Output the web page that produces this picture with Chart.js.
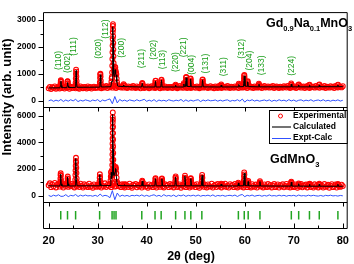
<!DOCTYPE html>
<html><head><meta charset="utf-8">
<script src="https://cdn.jsdelivr.net/npm/chart.js@4.4.1/dist/chart.umd.min.js"></script>
<style>html,body{margin:0;padding:0;background:#fff;}#wrap{width:354px;height:264px;position:relative;}</style>
</head><body><div id="wrap"><canvas id="c" width="354" height="264"></canvas></div>
<script>
// ---------- axes / ticks ----------
const xMin = 18.85, xMax = 81;
const xMajor = [20,30,40,50,60,70,80];
const xMajorLabels = ['20','30','40','50','60','70','80'];
const xMinor = [25,35,45,55,65,75];
const topTicks = [0,1000,2000,3000];
const topTickLabels = ['0','1000','2000','3000'];
const topMinor = [500,1500,2500];
const midTicks = [0,2000,4000,6000];
const midTickLabels = ['0','2000','4000','6000'];
const midMinor = [1000,3000,5000];

// ---------- experimental background samples (2θ = 20 + 0.25*i) ----------
const gridStart = 20, gridStep = 0.25;
const expNaBase = [
455,510,430,495,470,525,440,480,505,450,530,465,490,445,515,475,500,440,520,470,
480,515,455,500,470,440,525,485,460,510,495,450,530,470,505,445,490,520,465,500,
475,530,490,460,515,480,505,545,470,520,495,535,480,550,510,470,540,500,525,485,
520,480,545,500,465,530,490,515,475,540,500,470,525,490,510,455,535,495,470,515,
490,525,460,505,535,480,515,470,500,540,485,460,520,495,475,530,500,465,510,485,
505,470,530,490,515,460,500,540,480,510,475,525,495,465,535,500,470,520,490,510,
475,530,495,460,520,505,480,545,490,515,470,500,535,480,510,460,525,495,470,540,
500,470,525,490,515,480,540,495,465,520,505,475,530,490,510,465,545,500,480,520,
495,530,470,510,540,485,505,465,525,500,480,535,490,515,470,510,545,485,500,525,
480,515,495,540,470,505,530,490,465,520,500,475,535,510,485,545,495,470,520,505,
490,530,470,515,500,545,480,510,525,465,505,540,490,470,530,500,515,480,545,495,
510,475,530,500,490,540,470,515,505,480,535,495,520,470,545,500,485,525,510,490,
535];
const expGdBase = [
780,930,640,850,700,960,620,820,890,680,900,750,610,870,720,940,660,800,700,880,
740,620,880,700,820,650,900,730,610,860,700,790,640,910,680,750,600,850,720,660,
820,690,880,610,760,700,930,650,800,720,870,640,780,900,680,720,950,700,820,640,
870,700,620,840,760,650,900,710,600,820,740,880,630,790,700,860,610,750,890,680,
720,600,850,700,790,640,880,720,610,830,760,660,900,700,620,860,740,800,640,880,
700,820,620,760,890,650,730,850,600,790,700,870,640,820,720,610,900,680,760,830,
640,870,700,600,810,740,880,660,790,620,850,720,680,900,610,760,830,650,880,700,
780,620,840,700,900,650,760,610,870,720,800,640,890,700,620,830,750,680,860,620,
760,880,640,800,700,620,870,730,660,840,610,780,900,690,750,620,850,720,640,880,
700,810,620,760,880,640,720,850,610,790,700,860,630,740,890,660,770,620,840,700,
640,850,720,600,800,690,880,630,760,710,840,620,780,900,650,730,610,860,700,790,
620,840,700,760,610,880,660,730,820,600,760,870,640,720,850,610,790,700,660,830,
720];

// ---------- experimental points on the Bragg peaks [2θ, counts] ----------
const expNaPeaks = [
[22.38,560],[22.43,640],[22.47,730],[22.50,760],[22.54,700],[22.58,610],[22.63,540],
[23.73,550],[23.79,630],[23.84,710],[23.88,720],[23.92,650],[23.97,570],
[25.45,560],[25.50,660],[25.54,820],[25.57,990],[25.60,1150],[25.63,1080],[25.66,900],[25.70,730],[25.75,600],
[30.40,560],[30.45,680],[30.49,840],[30.52,970],[30.56,1000],[30.60,900],[30.64,740],[30.69,600],
[32.75,580],[32.80,700],[32.85,830],[32.90,880],
[32.95,1050],[32.98,1300],[33.00,1550],[33.02,1800],[33.04,2050],[33.06,2300],[33.08,2550],[33.10,2780],[33.12,2850],
[33.14,2650],[33.16,2400],[33.18,2150],[33.20,1900],[33.22,1650],[33.25,1400],[33.28,1200],
[33.33,1100],[33.40,1000],[33.46,1050],[33.52,1180],[33.56,1250],[33.60,1230],[33.65,1120],[33.70,1000],[33.76,1050],[33.82,980],[33.88,820],[33.95,680],[34.03,580],
[35.20,560],[35.30,610],[35.40,570],
[38.98,560],[39.05,630],[39.10,660],[39.16,620],[39.23,550],
[41.68,570],[41.74,650],[41.79,730],[41.83,740],[41.88,660],[41.94,570],
[42.88,580],[42.94,670],[42.99,760],[43.03,780],[43.08,690],[43.14,590],
[45.82,540],[45.90,590],[45.98,550],
[47.50,580],[47.57,650],[47.64,600],[47.92,620],[47.98,740],[48.03,860],[48.07,880],[48.12,780],[48.18,640],
[48.82,600],[48.88,710],[48.93,800],[48.97,820],[49.02,730],[49.08,610],
[51.27,590],[51.33,690],[51.38,770],[51.42,790],[51.47,700],[51.53,590],
[55.12,550],[55.20,600],[55.28,560],
[58.70,570],[58.78,630],[58.86,580],
[59.74,600],[59.79,700],[59.84,820],[59.88,930],[59.92,950],[59.96,870],[60.01,750],[60.06,640],
[60.50,600],[60.56,690],[60.62,720],[60.68,640],
[62.80,570],[62.88,630],[62.96,580],
[69.40,570],[69.48,640],[69.56,590],
[70.95,580],[71.03,600],[73.15,570],[73.22,590],[75.15,580],[75.22,600],[78.95,575],[79.03,595]];
const expGdPeaks = [
[22.30,850],[22.36,1050],[22.40,1300],[22.43,1550],[22.46,1680],[22.49,1500],[22.53,1200],[22.58,950],[22.64,820],
[23.76,850],[23.82,1050],[23.86,1300],[23.90,1440],[23.94,1250],[23.99,1000],[24.05,830],
[25.38,900],[25.43,1200],[25.46,1550],[25.49,1900],[25.52,2250],[25.55,2600],[25.58,2850],[25.61,2500],[25.64,2100],[25.67,1700],[25.71,1300],[25.76,1000],[25.82,850],
[30.30,850],[30.36,1050],[30.41,1350],[30.45,1610],[30.49,1400],[30.54,1100],[30.60,880],
[32.55,900],[32.62,1150],[32.68,1450],[32.73,1750],[32.78,1800],[32.84,1500],[32.90,1300],
[32.94,1600],[32.96,1950],[32.98,2300],[33.00,2700],[33.01,3100],[33.02,3500],[33.03,3900],[33.04,4300],[33.05,4700],[33.06,5100],[33.07,5500],[33.08,5900],[33.09,6250],
[33.11,5700],[33.12,5200],[33.13,4700],[33.14,4200],[33.15,3700],[33.17,3200],[33.19,2700],[33.21,2300],[33.24,1950],
[33.30,1800],[33.38,1700],[33.46,1800],[33.55,1950],[33.62,2100],[33.68,2150],[33.74,2000],[33.80,1700],[33.87,1350],[33.94,1050],[34.02,880],
[35.40,800],[35.50,870],[35.60,810],
[38.98,850],[39.04,1000],[39.09,1130],[39.14,1050],[39.21,870],
[41.66,870],[41.72,1050],[41.77,1250],[41.81,1320],[41.86,1150],[41.92,900],
[42.96,870],[43.02,1050],[43.07,1250],[43.11,1300],[43.16,1120],[43.22,890],
[45.76,880],[45.82,1100],[45.87,1350],[45.91,1450],[45.96,1250],[46.02,950],
[47.66,880],[47.72,1100],[47.77,1350],[47.81,1510],[47.86,1300],[47.92,980],
[48.86,870],[48.92,1060],[48.97,1270],[49.01,1320],[49.06,1120],[49.12,890],
[51.16,880],[51.22,1100],[51.27,1380],[51.31,1560],[51.36,1350],[51.42,1000],
[55.12,830],[55.20,910],[55.28,840],
[58.60,850],[58.68,980],[58.76,880],
[59.74,900],[59.80,1150],[59.85,1450],[59.89,1750],[59.93,1600],[59.98,1250],[60.04,950],
[60.60,880],[60.66,1020],[60.72,1100],[60.78,950],
[62.98,860],[63.05,1000],[63.10,1090],[63.16,980],[63.23,850],
[69.38,860],[69.45,990],[69.50,1050],[69.56,960],[69.63,840],
[70.92,840],[71.00,920],[71.08,850],[73.12,820],[73.20,880],[73.28,820],
[75.12,830],[75.20,900],[75.28,830],[78.92,820],[79.00,880],[79.08,820]];

// ---------- calculated profiles [2θ, counts] ----------
const calcNa = [[20,470],[22.3,475],[22.42,560],[22.5,720],[22.58,560],[22.7,480],[23.72,480],[23.8,560],[23.87,670],[23.95,550],[24.1,485],
[25.45,490],[25.52,650],[25.6,1120],[25.68,640],[25.8,495],[30.38,500],[30.47,640],[30.55,960],[30.63,640],[30.75,505],
[32.7,515],[32.85,720],[32.95,700],[33.0,1200],[33.08,2400],[33.12,2750],[33.17,2300],[33.25,1000],[33.35,900],[33.48,1000],[33.57,1150],[33.66,1000],[33.78,950],[33.9,700],[34.1,540],
[35.2,520],[35.3,580],[35.4,520],[38.95,505],[39.1,640],[39.25,505],[41.68,505],[41.8,720],[41.92,505],[42.88,505],[43.02,760],[43.15,505],
[45.8,505],[45.9,570],[46.0,505],[47.5,505],[47.58,620],[47.68,520],[47.9,515],[48.05,850],[48.2,530],[48.85,520],[48.96,800],[49.1,510],
[51.28,510],[51.4,770],[51.55,510],[55.1,505],[55.2,580],[55.3,505],[58.7,510],[58.8,600],[58.9,515],[59.75,520],[59.9,920],[60.05,540],
[60.5,530],[60.6,700],[60.72,520],[62.8,510],[62.9,610],[63.0,510],[69.4,510],[69.5,610],[69.6,510],[70.92,510],[71.0,580],[71.08,510],
[73.12,510],[73.2,570],[73.28,510],[75.12,510],[75.2,580],[75.28,515],[78.92,515],[79.0,580],[79.08,515],[80,520]];
const calcGd = [[20,740],[22.3,730],[22.38,900],[22.46,1620],[22.55,900],[22.7,730],[23.75,730],[23.82,900],[23.9,1400],[23.98,900],[24.1,730],
[25.4,735],[25.48,1200],[25.57,2780],[25.66,1200],[25.8,740],[30.3,740],[30.38,900],[30.46,1570],[30.54,900],[30.65,745],
[32.55,760],[32.7,1300],[32.78,1750],[32.86,1300],[32.95,1500],[33.02,3500],[33.08,6100],[33.14,3500],[33.22,1600],[33.35,1500],[33.55,1800],[33.68,2050],[33.8,1500],[33.95,950],[34.15,760],
[35.4,745],[35.5,830],[35.6,745],[38.95,740],[39.09,1100],[39.22,740],[41.65,740],[41.8,1280],[41.95,740],[42.95,740],[43.1,1260],[43.25,740],
[45.75,740],[45.9,1400],[46.05,740],[47.65,740],[47.8,1470],[47.95,740],[48.85,740],[49.0,1280],[49.15,740],[51.15,740],[51.3,1520],[51.45,740],
[55.1,730],[55.2,880],[55.3,730],[58.6,730],[58.7,960],[58.8,740],[59.75,745],[59.9,1700],[60.05,760],[60.6,750],[60.7,1060],[60.8,740],
[63.0,730],[63.1,1060],[63.2,730],[69.4,720],[69.5,1020],[69.6,720],[70.92,720],[71.0,900],[71.08,720],[73.12,715],[73.2,860],[73.28,715],
[75.12,715],[75.2,880],[75.28,715],[78.92,710],[79.0,860],[79.08,710],[80,710]];

// ---------- difference curves (2θ = 20 + 0.5*i) ----------
const diffStart = 20, diffStep = 0.5;
const diffNa = [
-10,25,-30,15,-20,40,-35,20,-25,30,-15,45,-40,10,-20,25,0,-30,20,-10,
35,-45,20,-15,30,60,-120,150,-90,40,-20,15,-30,25,0,-20,30,-15,10,45,
-30,15,-25,35,-40,20,-15,10,-25,30,0,-20,15,-10,40,-35,25,-30,15,-20,
10,30,-40,20,-15,25,-10,0,20,-25,15,-20,10,25,-30,5,-15,30,-25,55,
-60,20,-10,30,-20,15,-25,0,20,-15,25,-30,10,-20,30,-10,15,-25,35,-15,
20,-30,10,25,-20,15,-10,30,-25,5,20,-15,30,-20,10,-25,15,-10,25,-20,
10];
const diffGd = [
20,-60,40,-30,70,-50,-40,80,-70,30,-20,90,-60,40,-30,50,-20,10,-40,30,
-50,120,-40,30,-20,-150,380,-300,200,-60,40,-30,20,-50,30,-10,40,-30,60,-40,
30,-50,20,70,-40,30,-60,80,-30,20,-40,50,-70,40,-20,60,-50,30,-20,40,
-30,50,-40,20,-10,40,-30,60,-50,20,-20,30,-40,10,30,-20,50,-60,40,90,
-70,30,-20,50,-40,10,30,-40,20,-30,60,-20,10,-30,40,-20,30,-40,20,-10,
30,-40,50,-20,10,-30,40,-20,30,-10,-30,20,-40,30,-10,40,-20,10,-30,20,
-10];

// ---------- Bragg positions ----------
const braggPos = [22.47,23.85,25.5,30.4,32.94,33.34,33.74,39.0,41.7,42.95,45.9,47.8,49.0,51.25,58.7,59.9,60.7,63.1,69.5,71.0,73.2,75.2,79.0];
const braggLo = 0.36, braggHi = 0.68;

// ---------- (hkl) labels ----------
const hklText = ['(110)','(002)','(111)','(020)','(112)','(200)','(211)','(202)','(113)','(220)','(221)','(004)','(131)','(311)','(312)','(204)','(133)','(224)'];
const hklPos  = [22.0,23.82,25.2,30.22,31.67,34.81,39.07,41.48,43.19,45.95,47.57,49.14,51.94,55.76,59.28,60.97,63.5,69.54];
const hklBase = [1136,1030,1668,1562,2307,1597,1207,1526,1171,1065,1615,958,1012,905,1562,1118,940,923];

const legendLabels = ['Experimental','Calculated','Expt-Calc'];

// ---------- build library tables ----------
const pt = a => ({x:a[0], y:a[1]});
const gridPts = (arr, s, st) => arr.map((v,i)=>({x: s + i*st, y: v}));
const expNaData = gridPts(expNaBase, gridStart, gridStep).concat(expNaPeaks.map(pt));
const expGdData = gridPts(expGdBase, gridStart, gridStep).concat(expGdPeaks.map(pt));
const braggData = [];
braggPos.forEach(p => { braggData.push({x:p,y:braggLo},{x:p,y:braggHi},{x:p,y:null}); });

const RED = '#ff0000', BLK = '#000000', BLU = '#3050ff', GRN = '#22a522', LGRN = '#1a9e1a';
const FF = "'Liberation Sans', Arial, Helvetica, sans-serif";
Chart.defaults.font.family = FF;
Chart.defaults.color = '#000';

const off = {display:false, drawTicks:false};
function yAxis(weight, min, max, ticks, labels){
  return {type:'linear', position:'left', stack:'v', stackWeight:weight, min, max,
    grid:off, border:{display:false},
    ticks:{display: !!ticks, font:{size:8.5, weight:'bold'}, padding:7, color:'#000',
      callback:(v,i)=> labels ? labels[i] : ''},
    afterBuildTicks: s => { s.ticks = (ticks||[]).map(v=>({value:v})); },
    afterFit: s => { s.width = 43; }};
}

const deco = {
  id:'deco',
  afterDraw(chart){
    const {ctx, chartArea:a} = chart;
    const {x, yTop, yMid, yBot} = chart.scales;
    ctx.save();
    ctx.strokeStyle = '#000'; ctx.lineWidth = 1;
    const L = a.left + 0.5, R = a.right - 0.5, T = a.top + 0.5, B = a.bottom - 0.5;
    ctx.beginPath();
    ctx.rect(L, T, R - L, B - T);
    const d1 = Math.round(yTop.bottom) + 0.5, d2 = Math.round(yMid.bottom) + 0.5;
    ctx.moveTo(L, d1); ctx.lineTo(R, d1);
    ctx.moveTo(L, d2); ctx.lineTo(R, d2);
    // y ticks
    const yt = (sc, vals, len) => vals.forEach(v => { const p = Math.round(sc.getPixelForValue(v)) + 0.5; ctx.moveTo(L - len, p); ctx.lineTo(L, p); });
    yt(yTop, topTicks, 5); yt(yTop, topMinor, 3);
    yt(yMid, midTicks, 5); yt(yMid, midMinor, 3);
    // x ticks
    xMajor.forEach(v => { const p = Math.round(x.getPixelForValue(v)) + 0.5;
      ctx.moveTo(p, d1); ctx.lineTo(p, d1 + 4);
      ctx.moveTo(p, d2); ctx.lineTo(p, d2 + 4);
      ctx.moveTo(p, B); ctx.lineTo(p, B - 5); });
    xMinor.forEach(v => { const p = Math.round(x.getPixelForValue(v)) + 0.5; ctx.moveTo(p, B); ctx.lineTo(p, B - 3); });
    ctx.stroke();

    // hkl labels
    ctx.fillStyle = LGRN; ctx.font = "8.5px " + FF; ctx.textAlign = 'left'; ctx.textBaseline = 'middle';
    hklText.forEach((t,i) => {
      ctx.save();
      ctx.translate(x.getPixelForValue(hklPos[i]), yTop.getPixelForValue(hklBase[i]));
      ctx.rotate(-Math.PI/2); ctx.fillText(t, 0, 0); ctx.restore();
    });

    // sample names
    const formula = (parts, x0, y0) => {
      let cx = x0; ctx.fillStyle = '#000'; ctx.textAlign = 'left'; ctx.textBaseline = 'alphabetic';
      parts.forEach(([t, sub]) => {
        ctx.font = (sub ? "bold 7.5px " : "bold 12.5px ") + FF;
        ctx.fillText(t, cx, sub ? y0 + 4 : y0);
        cx += ctx.measureText(t).width;
      });
    };
    formula([['Gd',0],['0.9',1],['Na',0],['0.1',1],['MnO',0],['3',1]], 266, 26.5);
    formula([['GdMnO',0],['3',1]], 270, 163);

    // legend
    const lx = 269.5, ly = 110.5, lw = R - lx, lh = 33;
    ctx.fillStyle = '#fff'; ctx.fillRect(lx, ly, lw, lh);
    ctx.strokeStyle = '#000'; ctx.lineWidth = 1; ctx.strokeRect(lx, ly, lw, lh);
    const rows = [116, 127, 138];
    ctx.strokeStyle = RED; ctx.beginPath(); ctx.arc(280.5, rows[0], 2, 0, Math.PI*2); ctx.stroke();
    ctx.strokeStyle = '#444'; ctx.lineWidth = 1.5; ctx.beginPath(); ctx.moveTo(272, rows[1]); ctx.lineTo(291, rows[1]); ctx.stroke();
    ctx.strokeStyle = BLU; ctx.lineWidth = 1; ctx.beginPath(); ctx.moveTo(272, rows[2] + 0.5); ctx.lineTo(291, rows[2] + 0.5); ctx.stroke();
    ctx.fillStyle = '#000'; ctx.font = "bold 8.5px " + FF; ctx.textBaseline = 'middle'; ctx.textAlign = 'left';
    legendLabels.forEach((t,i) => ctx.fillText(t, 293, rows[i]));

    // axis titles
    ctx.font = "bold 13px " + FF; ctx.textAlign = 'center'; ctx.textBaseline = 'alphabetic';
    ctx.save(); ctx.translate(11, 97); ctx.rotate(-Math.PI/2); ctx.fillText('Intensity (arb. unit)', 0, 0); ctx.restore();
    ctx.font = "bold 12.5px " + FF;
    ctx.fillText('2\u03B8 (deg)', 191, 259.5);
    ctx.restore();
  }
};

new Chart(document.getElementById('c'), {
  type:'line',
  data:{datasets:[
    {label:'Calculated', data: calcNa.map(pt), yAxisID:'yTop', borderColor:BLK, borderWidth:1, pointRadius:0, order:0},
    {label:'Expt-Calc', data: gridPts(diffNa, diffStart, diffStep), yAxisID:'yTop', borderColor:BLU, borderWidth:1, pointRadius:0, order:1},
    {label:'Experimental', data: expNaData, yAxisID:'yTop', showLine:false, pointRadius:2.4, pointBorderWidth:1.1, pointBorderColor:RED, pointBackgroundColor:'rgba(255,255,255,0)', order:2},
    {label:'Calculated', data: calcGd.map(pt), yAxisID:'yMid', borderColor:BLK, borderWidth:1, pointRadius:0, order:0},
    {label:'Expt-Calc', data: gridPts(diffGd, diffStart, diffStep), yAxisID:'yMid', borderColor:BLU, borderWidth:1, pointRadius:0, order:1},
    {label:'Experimental', data: expGdData, yAxisID:'yMid', showLine:false, pointRadius:2.4, pointBorderWidth:1.1, pointBorderColor:RED, pointBackgroundColor:'rgba(255,255,255,0)', order:2},
    {label:'Bragg', data: braggData, yAxisID:'yBot', borderColor:GRN, borderWidth:1.5, pointRadius:0, spanGaps:false, order:3}
  ]},
  options:{
    responsive:false, animation:false, events:[], devicePixelRatio:1,
    layout:{padding:{left:0, top:1, right:2, bottom:0}},
    plugins:{legend:{display:false}, tooltip:{enabled:false}},
    elements:{line:{tension:0}},
    scales:{
      x:{type:'linear', position:'bottom', min:xMin, max:xMax, grid:off, border:{display:false},
        ticks:{font:{size:11, weight:'bold'}, padding:5, color:'#000', maxRotation:0, autoSkip:false,
          callback:(v,i)=> xMajorLabels[i]},
        afterBuildTicks: s => { s.ticks = xMajor.map(v=>({value:v})); },
        afterFit: s => { s.height = 35; }},
      yBot: yAxis(28, 0, 1, null, null),
      yMid: yAxis(100, -500, 6640, midTicks, midTickLabels),
      yTop: yAxis(100, -250, 3300, topTicks, topTickLabels)
    }
  },
  plugins:[deco]
});
</script></body></html>
